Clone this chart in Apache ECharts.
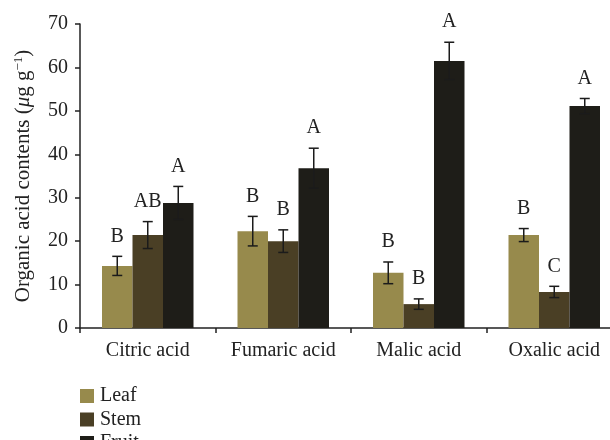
<!DOCTYPE html>
<html>
<head>
<meta charset="utf-8">
<script src="https://cdn.jsdelivr.net/npm/echarts@6/dist/echarts.min.js"></script>
<style>
  html, body { margin: 0; padding: 0; background: #fff; }
  #chart { width: 610px; height: 440px; }
</style>
</head>
<body>
<div id="chart"></div>
<script>
// data
const categories = ['Citric acid', 'Fumaric acid', 'Malic acid', 'Oxalic acid']
const seriesNames = ['Leaf', 'Stem', 'Fruit']
const leafMean = [14.3, 22.3, 12.7, 21.4]
const stemMean = [21.4, 20.0, 5.5, 8.3]
const fruitMean = [28.8, 36.8, 61.5, 51.1]
const leafErr = [2.2, 3.4, 2.5, 1.5]
const stemErr = [3.1, 2.6, 1.2, 1.3]
const fruitErr = [3.8, 4.6, 4.3, 1.75]
const leafLetters = ['B', 'B', 'B', 'B']
const stemLetters = ['AB', 'B', 'B', 'C']
const fruitLetters = ['A', 'A', 'A', 'A']
const yTicks = [0, 10, 20, 30, 40, 50, 60, 70]

const colors = ['#978a4c', '#4a3f25', '#1e1d18']
const font = '"Liberation Serif", "DejaVu Serif", serif'
const barWidth = 30.5

const means = [leafMean, stemMean, fruitMean]
const errs = [leafErr, stemErr, fruitErr]
const letters = [leafLetters, stemLetters, fruitLetters]

const myChart = echarts.init(document.getElementById('chart'))

//误差线 + 字母
const errorSeries = means.map((m, s) => ({
  type: 'custom',
  name: seriesNames[s] + ' err',
  silent: true,
  z: 5,
  data: m.map((v, i) => [i, v, errs[s][i], letters[s][i]]),
  renderItem: (params, api) => {
    const i = api.value(0)
    const v = api.value(1)
    const e = api.value(2)
    const base = api.coord([i, v])
    const x = base[0] + (s - 1) * barWidth
    const top = api.coord([i, v + e])[1]
    const bot = api.coord([i, v - e])[1]
    const cap = 5
    const st = { stroke: '#1b1b1b', lineWidth: 1.5 }
    return {
      type: 'group',
      children: [
        { type: 'line', shape: { x1: x, y1: top, x2: x, y2: bot }, style: st },
        { type: 'line', shape: { x1: x - cap, y1: top, x2: x + cap, y2: top }, style: st },
        { type: 'line', shape: { x1: x - cap, y1: bot, x2: x + cap, y2: bot }, style: st },
        {
          type: 'text',
          style: {
            x: x, y: top - 20,
            text: letters[s][i],
            align: 'center', verticalAlign: 'middle',
            font: '20px ' + font,
            fill: '#222'
          }
        }
      ]
    }
  }
}))

// one legend per item so the list stays in one column
const legendTops = [386, 409.5, 433]
const legends = seriesNames.map((n, k) => ({
  orient: 'vertical',
  left: 80,
  top: legendTops[k],
  itemWidth: 14,
  itemHeight: 14,
  icon: 'rect',
  data: [n],
  selectedMode: false,
  textStyle: { fontFamily: font, fontSize: 20, lineHeight: 14, color: '#222', padding: [0, 0, 0, 1] },
  padding: 0
}))

const option = {
  animation: false,
  grid: { left: 80, top: 24, height: 304, width: 542, containLabel: false, outerBoundsMode: 'none' },
  legend: legends,
  xAxis: {
    type: 'category',
    data: categories,
    axisLine: { lineStyle: { color: '#222', width: 1.5 } },
    axisTick: { show: true, length: 5, lineStyle: { color: '#222', width: 1.5 } },
    axisLabel: { fontFamily: font, fontSize: 20, color: '#222', margin: 13, interval: 0 }
  },
  yAxis: {
    type: 'value',
    min: 0,
    max: 70,
    interval: 10,
    splitLine: { show: false },
    axisLine: { show: true, lineStyle: { color: '#222', width: 1.5 } },
    axisTick: { show: true, length: 5, lineStyle: { color: '#222', width: 1.5 } },
    axisLabel: {
      fontFamily: font, fontSize: 20, color: '#222', margin: 12,
      formatter: v => (yTicks.includes(v) ? String(v) : '')
    },
    name: '{a|Organic acid contents (}{i|μ}{a|g g}{s|−1}{a|)}',
    nameLocation: 'middle',
    nameGap: 46,
    nameTextStyle: {
      rich: {
        a: { fontFamily: font, fontSize: 21, color: '#222' },
        i: { fontFamily: font, fontSize: 21, fontStyle: 'italic', color: '#222' },
        s: { fontFamily: font, fontSize: 13, color: '#222', verticalAlign: 'top', padding: [0, 0, 9, 0] }
      }
    }
  },
  series: means.map((m, s) => ({
    name: seriesNames[s],
    type: 'bar',
    barWidth: barWidth,
    barGap: '0%',
    itemStyle: { color: colors[s] },
    data: m
  })).concat(errorSeries)
}
option && myChart.setOption(option)
</script>
</body>
</html>
